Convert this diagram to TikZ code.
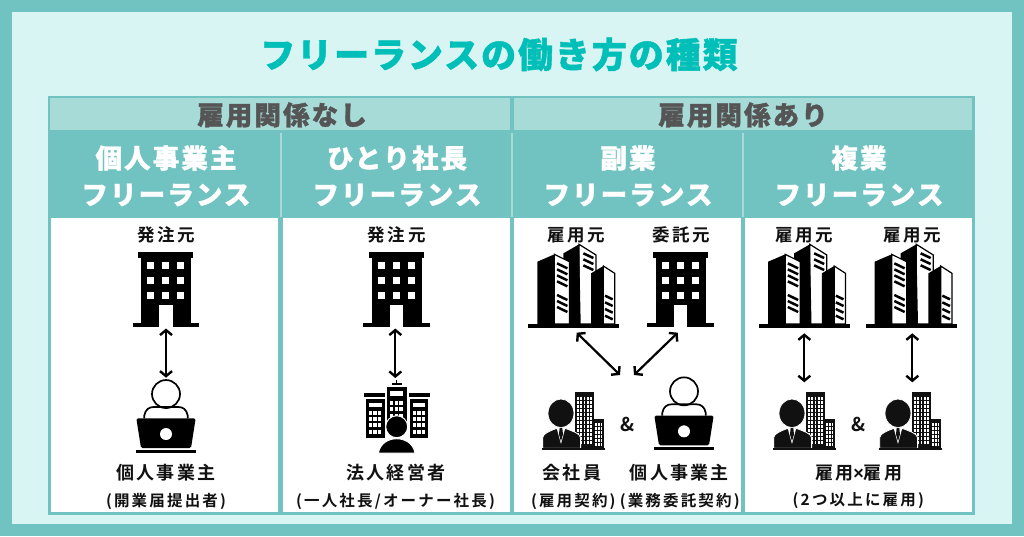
\documentclass[tikz,border=0pt]{standalone}
\usepackage{fontspec}
\usetikzlibrary{arrows.meta}
\setmainfont{Noto Sans CJK JP}
\newfontfamily\jpblack{Noto Sans CJK JP Black}
\newfontfamily\jpbold{Noto Sans CJK JP Bold}
\newfontfamily\crossfont{Liberation Sans}
\definecolor{frameteal}{HTML}{70C3C1}
\definecolor{palebg}{HTML}{D8F5F3}
\definecolor{headfill}{HTML}{A6DBD8}
\definecolor{titleteal}{HTML}{00BFB8}
\definecolor{headgray}{HTML}{555555}
\definecolor{inkblack}{HTML}{111111}
\tikzset{
 zu/.style={x=0.3333pt,y=-0.3333pt},
 titletext/.style={text=titleteal,inner sep=0pt,font=\jpblack\fontsize{35}{35}\selectfont\addfontfeature{LetterSpace=5.5,FakeBold=1.2}},
 grouptext/.style={text=headgray,inner sep=0pt,font=\jpblack\fontsize{26.5}{26.5}\selectfont\addfontfeature{LetterSpace=8,FakeBold=1.2}},
 typetext/.style={text=white,inner sep=0pt,font=\jpblack\fontsize{26.5}{26.5}\selectfont\addfontfeature{LetterSpace=8,FakeBold=1.2}},
 roletext/.style={text=inkblack,inner sep=0pt,font=\jpbold\fontsize{17.5}{17.5}\selectfont\addfontfeature{LetterSpace=15}},
 nametext/.style={text=inkblack,inner sep=0pt,font=\jpbold\fontsize{18}{18}\selectfont\addfontfeature{LetterSpace=12}},
 subtext/.style={text=inkblack,inner sep=0pt,font=\jpbold\fontsize{15.5}{15.5}\selectfont\addfontfeature{LetterSpace=14}},
 amptext/.style={text=inkblack,inner sep=0pt,font=\jpbold\fontsize{19}{19}\selectfont},
 linkarrow/.style={line width=2.2pt,draw=black,{Straight Barb[length=5pt,width=12pt,line width=2.4pt]}-{Straight Barb[length=5pt,width=12pt,line width=2.4pt]}},
 office/.pic={
  \begin{scope}[zu]
   \fill[black] (-83,-227) rectangle (82,-207);
   \fill[black] (-75,-207) rectangle (75,-10);
   \fill[black] (-100,-12) rectangle (100,0);
   \fill[white] (-20,-67) rectangle (20,1);
   \foreach \wx in {-56,-11,34} \foreach \wy in {-197,-152,-107}
     \fill[white] (\wx,\wy) rectangle ++(21,22);
  \end{scope}},
 towers/.pic={
  \begin{scope}[zu]
   \filldraw[fill=white,draw=black,line width=1.2pt] (16,-239) -- (67,-207) -- (67,0) -- (16,0) -- cycle;
   \fill[black] (-31,-212) -- (16,-239) -- (21,0) -- (-31,0) -- cycle;
   \foreach \sy in {-212,-194,-176}
     \draw[black,line width=2.5pt] (29,\sy) -- (59,\sy+14);
   \filldraw[fill=white,draw=black,line width=1.2pt] (-58,-209) -- (-13,-187) -- (-13,0) -- (-58,0) -- cycle;
   \fill[black] (-109,-187) -- (-58,-209) -- (-58,0) -- (-109,0) -- cycle;
   \foreach \sy in {-182,-164,-146,-128,-87,-69,-51}
     \draw[black,line width=2.5pt] (-50,\sy) -- (-19,\sy+15);
   \filldraw[fill=white,draw=black,line width=1.2pt] (89,-174) -- (123,-152) -- (123,0) -- (89,0) -- cycle;
   \fill[black] (52,-152) -- (89,-174) -- (89,0) -- (52,0) -- cycle;
   \foreach \sy in {-85,-65,-45,-25}
     \draw[black,line width=2.5pt] (94,\sy) -- (117,\sy+11);
   \fill[black] (-136,0) rectangle (137,11);
  \end{scope}},
 worker/.pic={
  \begin{scope}[zu]
   \filldraw[fill=white,draw=black,line width=1.7pt] (0,-176) circle (42);
   \draw[black,line width=1.7pt] (-65,-103) -- (-65,-112) .. controls (-62,-130) and (-50,-137) .. (-38,-137) -- (38,-137) .. controls (50,-137) and (62,-130) .. (65,-112) -- (65,-103);
   \fill[black,rounded corners=1.5pt] (-89,-103) -- (89,-103) -- (75,-14) -- (-75,-14) -- cycle;
   \fill[black] (-89,-8) rectangle (89,0);
   \fill[white] (0,-56) circle (18);
  \end{scope}},
 employee/.pic={
  \begin{scope}[zu]
   \fill[inkblack] (5,-171) rectangle (62,-3);
   \fill[inkblack] (62,-90) rectangle (92,-3);
   \foreach \cx in {0,...,4} \foreach \cy in {0,...,11}
     \fill[white] (12+\cx*9.5,-156+\cy*12) rectangle ++(5.5,7);
   \foreach \cx in {0,1,2} \foreach \cy in {0,...,5}
     \fill[white] (66+\cx*8,-78+\cy*12) rectangle ++(5,7);
   \filldraw[fill=inkblack,draw=white,line width=0.8pt] (-92,-3) -- (-92,-35) .. controls (-90,-48) and (-70,-55) .. (-52,-62) -- (-22,-62) .. controls (-4,-55) and (20,-48) .. (22,-35) -- (22,-3) -- cycle;
   \filldraw[fill=inkblack,draw=white,line width=0.8pt] (-37,-108) ellipse (39 and 43);
   \fill[white] (-50,-64) -- (-24,-64) -- (-37,-16) -- cycle;
   \fill[inkblack] (-41,-64) -- (-33,-64) -- (-31,-45) -- (-37,-24) -- (-43,-45) -- cycle;
   \fill[inkblack] (-93,-3) rectangle (95,3);
  \end{scope}},
 ceo/.pic={
  \begin{scope}[zu]
   \fill[black] (-2,-218) rectangle (2,-206);
   \fill[black] (-15,-208) rectangle (15,-202);
   \fill[black] (-30,-198) rectangle (30,-90);
   \fill[white] (-20,-184) rectangle (20,-170);
   \fill[black] (-98,-180) rectangle (-35,-168);
   \fill[black] (38,-180) rectangle (100,-168);
   \fill[black] (-92,-160) rectangle (-34,-45);
   \fill[black] (40,-160) rectangle (94,-45);
   \fill[white] (-82,-150) rectangle (-44,-138);
   \fill[white] (50,-150) rectangle (84,-138);
   \foreach \cx in {0,1,2} \foreach \cy in {0,1,2,3} {
     \fill[white] (-84+\cx*14,-126+\cy*19) rectangle ++(10,12);
     \fill[white] (48+\cx*14,-126+\cy*19) rectangle ++(10,12);
   }
   \foreach \cx in {0,1,2} \foreach \cy in {0,1,2} 
     \fill[white] (-20+\cx*14,-155+\cy*19) rectangle ++(10,12);
   \filldraw[fill=black,draw=white,line width=1pt] (0,-78) circle (33);
   \filldraw[fill=black,draw=white,line width=1pt] (-55,1) .. controls (-50,-28) and (-25,-42) .. (0,-42) .. controls (25,-42) and (50,-28) .. (55,1) -- cycle;
  \end{scope}}
}
\begin{document}
\begin{tikzpicture}[x=1pt,y=-1pt]
\useasboundingbox (0,0) rectangle (1024,536);
\fill[frameteal] (0,0) rectangle (1024,536);
\fill[palebg] (12,12) rectangle (1012,524);
\fill[frameteal] (47.5,95.5) rectangle (974.5,515);
\fill[headfill] (50,98) rectangle (510,130);
\fill[headfill] (514,98) rectangle (972,130);
\fill[headfill] (279.5,133) rectangle (282,217);
\fill[headfill] (510.5,133) rectangle (513,217);
\fill[headfill] (741.5,133) rectangle (744,217);
\fill[white] (50.5,217.5) rectangle (277.5,512);
\fill[white] (283.3,217.5) rectangle (510,512);
\fill[white] (514,217.5) rectangle (740.7,512);
\fill[white] (744.7,217.5) rectangle (971.7,512);
\node[titletext] (title) at (499,54.5) {フリーランスの働き方の種類};
\node[grouptext] (groupa) at (282,115) {雇用関係なし};
\node[grouptext] (groupb) at (743,115) {雇用関係あり};
\node[typetext] (typea) at (166,158) {個人事業主};
\node[typetext] (typeaf) at (166,195) {フリーランス};
\node[typetext] (typeb) at (397,158) {ひとり社長};
\node[typetext] (typebf) at (397,195) {フリーランス};
\node[typetext] (typec) at (628,158) {副業};
\node[typetext] (typecf) at (628,195) {フリーランス};
\node[typetext] (typed) at (859,158) {複業};
\node[typetext] (typedf) at (859,195) {フリーランス};
\node[roletext] (rolea) at (166,235) {発注元};
\node[roletext] (roleb) at (396.7,235) {発注元};
\node[roletext] (rolec) at (576,235) {雇用元};
\node[roletext] (rolecc) at (681.3,235) {委託元};
\node[roletext] (roled) at (804.5,235) {雇用元};
\node[roletext] (roledd) at (912.3,235) {雇用元};
\node[nametext] (namea) at (166,473) {個人事業主};
\node[subtext] (suba) at (166,501) {(開業届提出者)};
\node[nametext] (nameb) at (396,473) {法人経営者};
\node[subtext] (subb) at (395.5,501) {(一人社長/オーナー社長)};
\node[nametext] (namec) at (572,473) {会社員};
\node[nametext] (namecc) at (679.3,473) {個人事業主};
\node[subtext] (subc) at (573.3,501) {(雇用契約)};
\node[subtext] (subcc) at (679.7,501) {(業務委託契約)};
\node[nametext] (named) at (858.7,473) {雇用{\crossfont\bfseries\fontsize{18}{18}\selectfont ×}雇用};
\node[subtext] (subd) at (858.3,501) {(2つ以上に雇用)};
\node[amptext] (ampc) at (627.3,424) {\&};
\node[amptext] (ampd) at (858.3,424) {\&};
\pic at (166,327.3) {office};
\pic at (396.7,327.3) {office};
\pic at (680.8,327.3) {office};
\pic at (573.7,324) {towers};
\pic at (804.5,324) {towers};
\pic at (911,324) {towers};
\pic at (166,452.7) {worker};
\pic at (684,450) {worker};
\pic at (396.7,452.7) {ceo};
\pic at (573.3,449.3) {employee};
\pic at (804.3,449.3) {employee};
\pic at (910.3,449.3) {employee};
\coordinate (a1) at (166,328.5);
\coordinate (a2) at (166,377.7);
\coordinate (b1) at (395.3,328.5);
\coordinate (b2) at (395.3,378);
\coordinate (c1) at (576.7,332.7);
\coordinate (c2) at (620,375);
\coordinate (c3) at (677.7,332.7);
\coordinate (c4) at (634,375);
\coordinate (d1) at (804.3,333.3);
\coordinate (d2) at (804.3,382.3);
\coordinate (d3) at (912.3,333.3);
\coordinate (d4) at (912.3,382.3);
\draw[linkarrow] (a1) -- (a2);
\draw[linkarrow] (b1) -- (b2);
\draw[linkarrow] (c1) -- (c2);
\draw[linkarrow] (c3) -- (c4);
\draw[linkarrow] (d1) -- (d2);
\draw[linkarrow] (d3) -- (d4);
\end{tikzpicture}
\end{document}
